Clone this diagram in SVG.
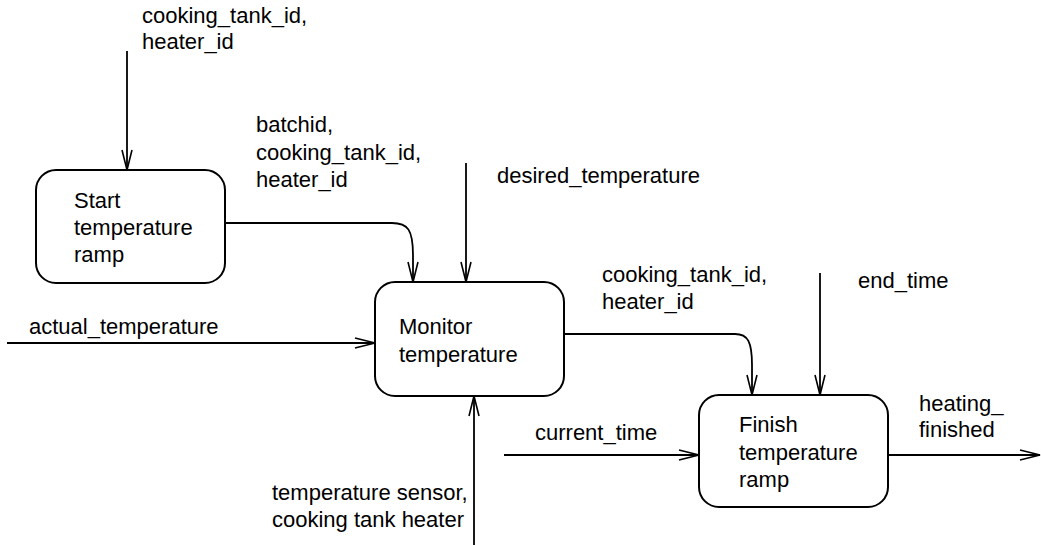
<svg xmlns="http://www.w3.org/2000/svg" width="1041" height="545" viewBox="0 0 1041 545">
<style>
text{font-family:"Liberation Sans",Arial,sans-serif;font-size:22px;fill:#000}
.box{fill:#fff;stroke:#000;stroke-width:2}
.c{fill:none;stroke:#000;stroke-width:1.8}
</style>
<defs>
<marker id="ah" markerUnits="userSpaceOnUse" markerWidth="24" markerHeight="14" refX="21" refY="6" orient="auto">
<path d="M1,1 L21,6 L1,11" fill="none" stroke="#000" stroke-width="1.6"/>
</marker>
</defs>
<rect width="1041" height="545" fill="#fff"/>
<g id="connectors">
<path class="c" d="M127,51 V170" marker-end="url(#ah)"/>
<path class="c" d="M225,223 H392 C408,223 413,230 413,255 V282" marker-end="url(#ah)"/>
<path class="c" d="M466,163 V282" marker-end="url(#ah)"/>
<path class="c" d="M7,343 H375" marker-end="url(#ah)"/>
<path class="c" d="M474,545 V396" marker-end="url(#ah)"/>
<path class="c" d="M564,334 H735 C748,334 752,342 752,365 V395" marker-end="url(#ah)"/>
<path class="c" d="M820,273 V395" marker-end="url(#ah)"/>
<path class="c" d="M504,455 H699" marker-end="url(#ah)"/>
<path class="c" d="M888,455 H1040" marker-end="url(#ah)"/>
<text x="142" y="23">cooking_tank_id,</text>
<text x="142" y="49">heater_id</text>
<text x="256" y="132">batchid,</text>
<text x="256" y="160">cooking_tank_id,</text>
<text x="256" y="187">heater_id</text>
<text x="497" y="183">desired_temperature</text>
<text x="29" y="334">actual_temperature</text>
<text x="602" y="282">cooking_tank_id,</text>
<text x="602" y="309">heater_id</text>
<text x="858" y="288">end_time</text>
<text x="535" y="440">current_time</text>
<text x="919" y="411">heating_</text>
<text x="919" y="437">finished</text>
<text x="272" y="500">temperature sensor,</text>
<text x="272" y="527">cooking tank heater</text>
</g>
<g id="start">
<rect class="box" x="36" y="170" width="189" height="113" rx="20"/>
<text x="74" y="208">Start</text>
<text x="74" y="235">temperature</text>
<text x="74" y="262">ramp</text>
</g>
<g id="monitor">
<rect class="box" x="375" y="282" width="189" height="114" rx="20"/>
<text x="399" y="334">Monitor</text>
<text x="399" y="362">temperature</text>
</g>
<g id="finish">
<rect class="box" x="699" y="395" width="189" height="112" rx="20"/>
<text x="739" y="432">Finish</text>
<text x="739" y="460">temperature</text>
<text x="739" y="487">ramp</text>
</g>
</svg>
